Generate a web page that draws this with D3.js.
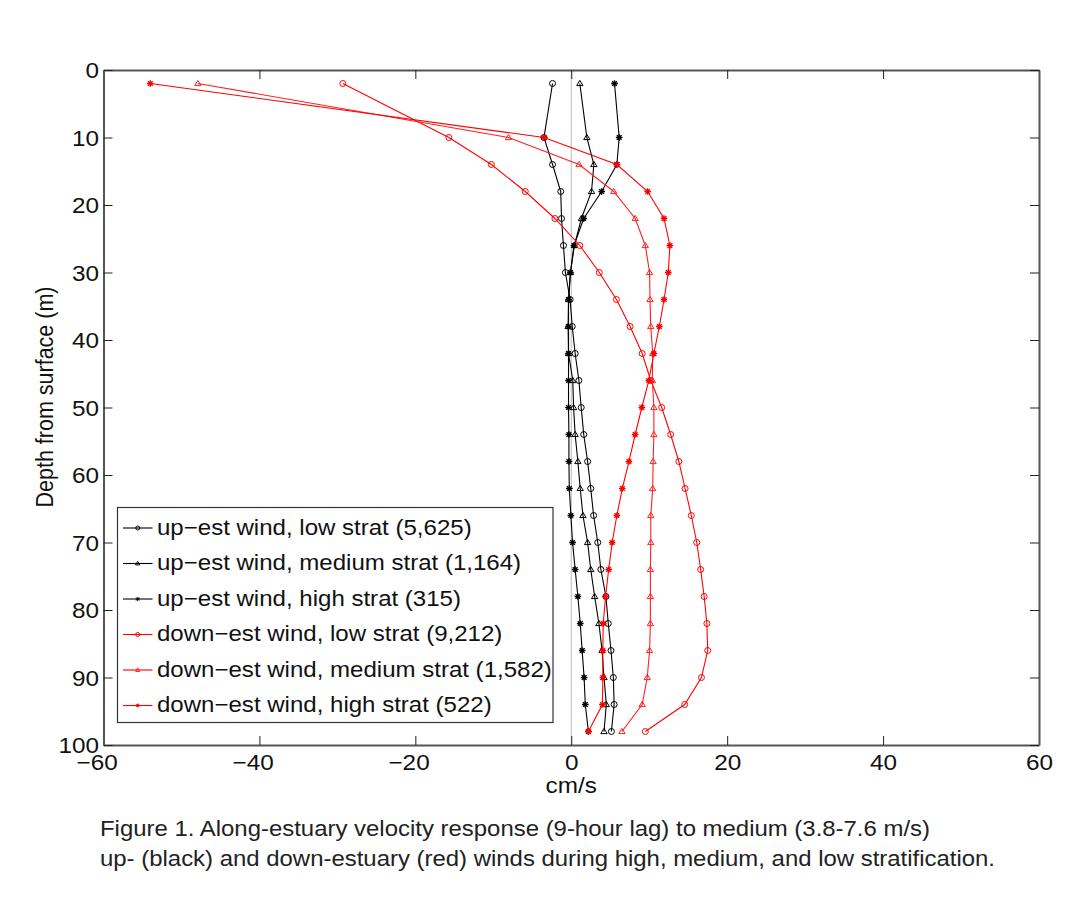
<!DOCTYPE html>
<html><head><meta charset="utf-8">
<script src="https://cdn.jsdelivr.net/npm/d3@7"></script>
<style>
html,body{margin:0;padding:0;background:#fff;}
svg{display:block;}
text{font-family:"Liberation Sans",Arial,Helvetica,sans-serif;}
</style></head>
<body>
<svg id="chart" width="1080" height="900"></svg>
<script>
// ---- data ----
const depths = [2,10,14,18,22,26,30,34,38,42,46,50,54,58,62,66,70,74,78,82,86,90,94,98];
const upLow    = [-2.4,-3.5,-2.4,-1.35,-1.25,-1.0,-0.75,-0.15,0.13,0.5,0.98,1.28,1.6,2.1,2.5,2.87,3.4,3.8,4.45,4.75,5.1,5.4,5.5,5.15];
const upMed    = [1.1,2.0,2.9,2.6,1.3,0.4,-0.1,-0.35,-0.4,-0.35,0.2,0.3,0.5,0.85,1.15,1.5,2.1,2.5,3.0,3.55,3.95,4.2,4.5,4.2];
const upHigh   = [5.55,6.15,5.85,3.9,1.6,0.35,-0.1,-0.35,-0.35,-0.35,-0.35,-0.35,-0.3,-0.3,-0.25,-0.05,0.17,0.5,0.85,1.15,1.4,1.65,1.8,2.2];
const downLow  = [-29.3,-15.7,-10.25,-5.9,-2.1,1.1,3.6,5.8,7.55,9.1,10.2,11.6,12.75,13.8,14.6,15.4,16.1,16.6,17.05,17.4,17.5,16.7,14.55,9.5];
const downMed  = [-47.9,-8.05,1.0,5.45,8.2,9.5,10.05,10.1,10.2,10.45,10.4,10.6,10.6,10.5,10.45,10.2,10.2,10.15,10.15,10.15,10.05,9.75,9.1,6.5];
const downHigh = [-54.0,-3.5,5.85,9.8,11.9,12.65,12.45,11.9,11.3,10.6,9.95,9.05,8.2,7.4,6.55,5.85,5.25,4.8,4.4,4.1,4.05,4.05,4.0,2.2];
const seriesNames = [
  "up\u2212est wind, low strat (5,625)",
  "up\u2212est wind, medium strat (1,164)",
  "up\u2212est wind, high strat (315)",
  "down\u2212est wind, low strat (9,212)",
  "down\u2212est wind, medium strat (1,582)",
  "down\u2212est wind, high strat (522)"
];
const seriesValues = [upLow, upMed, upHigh, downLow, downMed, downHigh];
const seriesColors = ["#000","#000","#000","#ff0000","#ff2020","#ff0000"];
const seriesMarkers = ["circle","triangle","star","circle","triangle","star"];
const xTicks = [-60,-40,-20,0,20,40,60];
const yTicks = [0,10,20,30,40,50,60,70,80,90,100];
const xLabel = "cm/s";
const yLabel = "Depth from surface (m)";
const caption = [
  "Figure 1. Along-estuary velocity response (9-hour lag) to medium (3.8-7.6 m/s)",
  "up- (black) and down-estuary (red) winds during high, medium, and low stratification."
];

// ---- layout ----
const svg = d3.select("#chart");
const L = 103.5, R = 1039, T = 70, B = 745;
const FS = 21.5, SX = 1.13;           // font size and horizontal glyph stretch
const x = d3.scaleLinear().domain([-60,60]).range([L,R]);
const y = d3.scaleLinear().domain([0,100]).range([T,B]);
const axisColor = "#555";
const fmt = d => (d < 0 ? "\u2212" + Math.abs(d) : String(d));

// zero line
svg.append("line").attr("x1",x(0)).attr("x2",x(0)).attr("y1",T).attr("y2",B)
  .attr("stroke","#bbb").attr("stroke-width",1);

// marker path generator
function markerPath(type, s) {
  if (type === "circle") {
    const r = s;
    return `M${-r},0A${r},${r} 0 1,0 ${r},0A${r},${r} 0 1,0 ${-r},0Z`;
  }
  if (type === "triangle") {
    const h = s*1.75, w = s*1.05;
    return `M0,${-h*0.6}L${w},${h*0.4}L${-w},${h*0.4}Z`;
  }
  const a = s, d = s*0.72;
  return `M${-a},0L${a},0M0,${-a}L0,${a}M${-d},${-d}L${d},${d}M${-d},${d}L${d},${-d}`;
}

const line = d3.line().x(d => x(d[0])).y(d => y(d[1]));

seriesValues.forEach((vals, i) => {
  const pts = vals.map((v, j) => [v, depths[j]]);
  const g = svg.append("g");
  g.append("path").attr("d", line(pts)).attr("fill","none")
    .attr("stroke", seriesColors[i]).attr("stroke-width", 1.1);
  g.selectAll("path.m").data(pts).join("path").attr("class","m")
    .attr("transform", d => `translate(${x(d[0])},${y(d[1])})`)
    .attr("d", markerPath(seriesMarkers[i], seriesMarkers[i]==="star" ? 3.3 : 3))
    .attr("fill","none").attr("stroke", seriesColors[i])
    .attr("stroke-width", seriesMarkers[i]==="star" ? 1.4 : 1);
});

// axes (box style with inward ticks)
const tickLen = 9;
const axB = svg.append("g").attr("transform",`translate(0,${B})`)
  .call(d3.axisBottom(x).tickValues(xTicks).tickSizeInner(-tickLen).tickSizeOuter(0).tickFormat(fmt));
const axT = svg.append("g").attr("transform",`translate(0,${T})`)
  .call(d3.axisTop(x).tickValues(xTicks).tickSizeInner(-tickLen).tickSizeOuter(0).tickFormat(""));
const axL = svg.append("g").attr("transform",`translate(${L},0)`)
  .call(d3.axisLeft(y).tickValues(yTicks).tickSizeInner(-tickLen).tickSizeOuter(0).tickFormat(fmt));
const axR = svg.append("g").attr("transform",`translate(${R},0)`)
  .call(d3.axisRight(y).tickValues(yTicks).tickSizeInner(-tickLen).tickSizeOuter(0).tickFormat(""));
[axB,axT,axL,axR].forEach(a => {
  a.select(".domain").attr("stroke",axisColor).attr("stroke-width",2);
  a.selectAll(".tick line").attr("stroke","#222").attr("stroke-width",1);
  a.selectAll("text").attr("font-size",FS).attr("fill","#111")
    .attr("font-family",'"Liberation Sans",Arial,sans-serif');
});
// negative labels: digits centred on the tick, minus sign hanging to the left
axB.selectAll(".tick text").attr("x",0).attr("y",0).attr("dy",0)
  .attr("transform", d => `translate(${d < 0 ? -6.8 : 0},24.5) scale(${SX},1)`);
axL.selectAll(".tick text").attr("x",0).attr("y",0).attr("dy",0)
  .attr("transform",`translate(-4.5,7.6) scale(${SX},1)`);

// axis labels
svg.append("text").attr("transform",`translate(${x(0)},792.5) scale(${SX},1)`)
  .attr("text-anchor","middle").attr("font-size",FS).attr("fill","#111").text(xLabel);
svg.append("text").attr("transform",`translate(53,397) scale(${SX},1) rotate(-90)`)
  .attr("text-anchor","middle").attr("font-size",FS).attr("fill","#111").text(yLabel);

// legend
const lg = svg.append("g");
lg.append("rect").attr("x",117.5).attr("y",507.5).attr("width",435.5).attr("height",215)
  .attr("fill","#fff").attr("stroke","#333").attr("stroke-width",1.2);
const rowY = [528, 563.5, 599, 634.5, 670, 705.5];
seriesNames.forEach((name, i) => {
  const ry = rowY[i];
  lg.append("line").attr("x1",123).attr("x2",152.5).attr("y1",ry).attr("y2",ry)
    .attr("stroke", i===4 ? "#ff7070" : seriesColors[i]).attr("stroke-width", i===4 ? 2 : 1.1);
  lg.append("path").attr("transform",`translate(137.7,${ry})`)
    .attr("d", markerPath(seriesMarkers[i], 2))
    .attr("fill","none").attr("stroke", seriesColors[i]).attr("stroke-width",1);
  lg.append("text").attr("transform",`translate(157,${ry+6.8}) scale(${SX*0.99},1)`)
    .attr("font-size",FS).attr("fill","#111").text(name);
});

// caption
const capW = [830, 895];
caption.forEach((c, i) => {
  svg.append("text").attr("x",100).attr("y", 836 + i*29.5)
    .attr("font-size",22).attr("fill","#222")
    .attr("textLength", capW[i]).attr("lengthAdjust","spacingAndGlyphs")
    .text(c);
});
</script>
</body></html>
